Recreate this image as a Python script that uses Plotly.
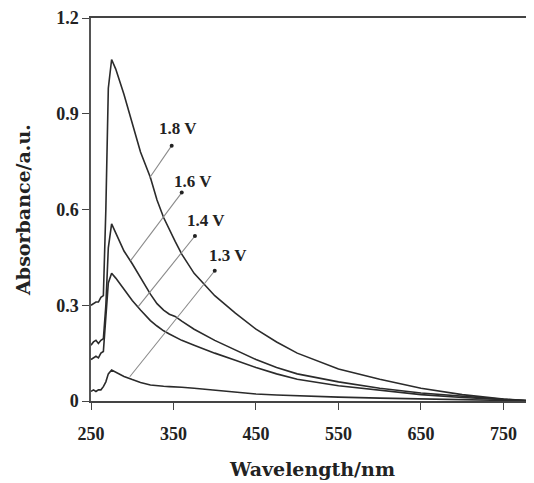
import plotly.graph_objects as go

# wavelength grid (nm) and absorbance for each applied voltage
wavelength = [250, 253, 256, 259, 262, 265, 268, 271, 275, 280, 290, 300, 310, 322, 330,
              338, 345, 352, 360, 375, 400, 425, 450, 475, 500, 550, 600, 650, 700, 750, 787]

abs_18 = [0.30, 0.305, 0.31, 0.31, 0.325, 0.33, 0.60, 0.98, 1.07, 1.04, 0.96, 0.87, 0.78, 0.70, 0.63,
          0.575, 0.535, 0.50, 0.46, 0.40, 0.33, 0.275, 0.225, 0.185, 0.15, 0.10, 0.068, 0.04, 0.02, 0.006, 0.0]
abs_16 = [0.175, 0.185, 0.19, 0.18, 0.19, 0.195, 0.30, 0.48, 0.555, 0.525, 0.47, 0.43, 0.385, 0.335, 0.305,
          0.285, 0.272, 0.265, 0.25, 0.225, 0.19, 0.16, 0.13, 0.105, 0.085, 0.06, 0.04, 0.025, 0.014, 0.005, 0.0]
abs_14 = [0.13, 0.135, 0.14, 0.135, 0.15, 0.155, 0.25, 0.37, 0.40, 0.385, 0.35, 0.315, 0.285, 0.252, 0.235,
          0.22, 0.21, 0.20, 0.19, 0.175, 0.15, 0.128, 0.105, 0.085, 0.068, 0.048, 0.033, 0.02, 0.011, 0.004, 0.0]
abs_13 = [0.03, 0.035, 0.03, 0.035, 0.035, 0.045, 0.06, 0.085, 0.097, 0.09, 0.077, 0.067, 0.058, 0.05, 0.047,
          0.046, 0.045, 0.045, 0.043, 0.04, 0.034, 0.028, 0.022, 0.019, 0.016, 0.012, 0.009, 0.006, 0.004, 0.002, 0.0]

labels = ["1.8 V", "1.6 V", "1.4 V", "1.3 V"]
# pointer lines: start on curve -> end dot, then label position
pointer_x = [[320.7, 347.8], [298, 360], [307, 376], [297, 400]]
pointer_y = [[0.698, 0.80], [0.44, 0.653], [0.295, 0.517], [0.076, 0.408]]
label_x = [355.5, 374, 390, 416]
label_y = [0.853, 0.687, 0.567, 0.455]

xticks = [250, 350, 450, 550, 650, 750]
yticks = [0, 0.3, 0.6, 0.9, 1.2]

serif = "Liberation Serif"
wide_serif = "DejaVu Serif"

fig = go.Figure()

for ys in [abs_18, abs_16, abs_14, abs_13]:
    fig.add_trace(go.Scatter(x=wavelength, y=ys, mode="lines",
                             line=dict(color="#2b2b2b", width=1.6), showlegend=False))

for px, py in zip(pointer_x, pointer_y):
    fig.add_trace(go.Scatter(x=px, y=py, mode="lines",
                             line=dict(color="#8a8a8a", width=1.1), showlegend=False))
    fig.add_trace(go.Scatter(x=[px[1]], y=[py[1]], mode="markers",
                             marker=dict(color="#222", size=4), showlegend=False))

for lx, ly, txt in zip(label_x, label_y, labels):
    fig.add_annotation(x=lx, y=ly, text=txt, showarrow=False,
                       font=dict(family=serif, size=17, color="#222", weight="bold"))

# page body has an 8px margin, so the figure is a bit smaller than the window
fig.update_layout(
    width=526, height=475,
    margin=dict(l=83, r=0, t=10, b=82),
    plot_bgcolor="white", paper_bgcolor="white",
    font=dict(family=serif, color="#222", size=18, weight="bold"),
)

fig.update_xaxes(
    range=[250, 787], tickvals=xticks, ticks="outside", ticklen=7, tickcolor="#444",
    ticklabelstandoff=9,
    showline=True, linecolor="#444", linewidth=1.5, mirror=True, showgrid=False, zeroline=False,
    automargin=False,
    title=dict(text="Wavelength/nm", font=dict(family=wide_serif, size=19, weight="bold"), standoff=19),
)
fig.update_yaxes(
    range=[0, 1.2], tickvals=yticks, ticktext=["0", "0.3", "0.6", "0.9", "1.2"],
    ticks="outside", ticklen=7, tickcolor="#444",
    showline=True, linecolor="#555", linewidth=1.5, showgrid=False, zeroline=False,
    automargin=False,
    title=dict(text="Absorbance/a.u.", font=dict(family=wide_serif, size=19, weight="bold"), standoff=21),
)

fig.write_html("out.html")
